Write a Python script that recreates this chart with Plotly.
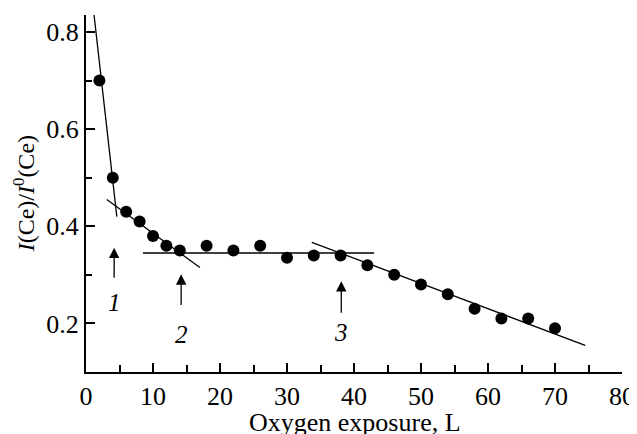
import plotly.graph_objects as go

# Data
exposure = [2, 4, 6, 8, 10, 12, 14, 18, 22, 26, 30, 34, 38, 42, 46, 50, 54, 58, 62, 66, 70]
ratio = [0.70, 0.50, 0.43, 0.41, 0.38, 0.36, 0.35, 0.36, 0.35, 0.36, 0.335, 0.34, 0.34,
         0.32, 0.30, 0.28, 0.26, 0.23, 0.21, 0.21, 0.19]

# Fitted straight segments (start/end points)
fit1_x = [1.2, 4.6]
fit1_y = [0.835, 0.42]
fit2_x = [3.1, 17.0]
fit2_y = [0.455, 0.315]
fit3_x = [8.5, 43.0]
fit3_y = [0.345, 0.345]
fit4_x = [33.7, 74.5]
fit4_y = [0.367, 0.155]

# Arrow markers: x position, tail y, tip y, label y, label
arrow_x = [4.2, 14.2, 38.1]
arrow_tail = [0.291, 0.235, 0.219]
arrow_tip = [0.356, 0.301, 0.287]
label_y = [0.243, 0.178, 0.182]
labels = ["1", "2", "3"]

x_title = "Oxygen exposure, L"
y_title = "<i>I</i>(Ce)/<i>I</i><sup>0</sup>(Ce)"

FONT = "Liberation Serif, Times New Roman, serif"

fig = go.Figure()
for fx, fy in [(fit1_x, fit1_y), (fit2_x, fit2_y), (fit3_x, fit3_y), (fit4_x, fit4_y)]:
    fig.add_trace(go.Scatter(x=fx, y=fy, mode="lines",
                             line=dict(color="black", width=1.3), showlegend=False,
                             hoverinfo="skip"))
fig.add_trace(go.Scatter(x=exposure, y=ratio, mode="markers",
                         marker=dict(color="black", size=12), showlegend=False))

for ax_, t, tip, ly, lab in zip(arrow_x, arrow_tail, arrow_tip, label_y, labels):
    fig.add_annotation(x=ax_, y=tip, ax=ax_, ay=t, xref="x", yref="y", axref="x", ayref="y",
                       showarrow=True, arrowhead=2, arrowsize=1.6, arrowwidth=1.3,
                       arrowcolor="black", text="")
    fig.add_annotation(x=ax_, y=ly, xref="x", yref="y", text="<i>" + lab + "</i>",
                       showarrow=False, font=dict(family=FONT, size=25, color="black"))

# Axis titles placed as paper annotations for precise positioning
fig.add_annotation(x=0.502, y=-0.141, xref="paper", yref="paper", text=x_title,
                   showarrow=False, xanchor="center", yanchor="middle",
                   font=dict(family=FONT, size=26, color="black"))
fig.add_annotation(x=-0.116, y=0.50, xref="paper", yref="paper", text=y_title,
                   showarrow=False, xanchor="center", yanchor="middle", textangle=-90,
                   font=dict(family=FONT, size=24, color="black"))

# The page body has an 8px margin, so the figure is sized to fit inside the window.
fig.update_layout(
    width=629, height=426,
    margin=dict(l=78, r=15, t=7, b=62),
    plot_bgcolor="white", paper_bgcolor="white",
    font=dict(family=FONT, size=26, color="black"),
)
fig.update_xaxes(
    range=[0, 80], tickmode="array", tickvals=[0, 10, 20, 30, 40, 50, 60, 70, 80],
    ticks="inside", ticklen=9, tickwidth=1.5, tickcolor="black",
    minor=dict(tickvals=[5, 15, 25, 35, 45, 55, 65, 75], ticks="inside", ticklen=7,
               tickwidth=1.5, tickcolor="black"),
    showline=True, linecolor="black", linewidth=2, showgrid=False, zeroline=False,
    automargin=False, tickfont=dict(size=26),
)
fig.update_yaxes(
    range=[0.1, 0.835], tickmode="array", tickvals=[0.2, 0.4, 0.6, 0.8],
    ticktext=["0.2", "0.4", "0.6", "0.8"],
    ticks="inside", ticklen=9, tickwidth=1.5, tickcolor="black",
    minor=dict(tickvals=[0.3, 0.5, 0.7], ticks="inside", ticklen=6,
               tickwidth=1.5, tickcolor="black"),
    showline=True, linecolor="black", linewidth=2, showgrid=False, zeroline=False,
    automargin=False, tickfont=dict(size=26),
)

fig.write_html("out.html")
